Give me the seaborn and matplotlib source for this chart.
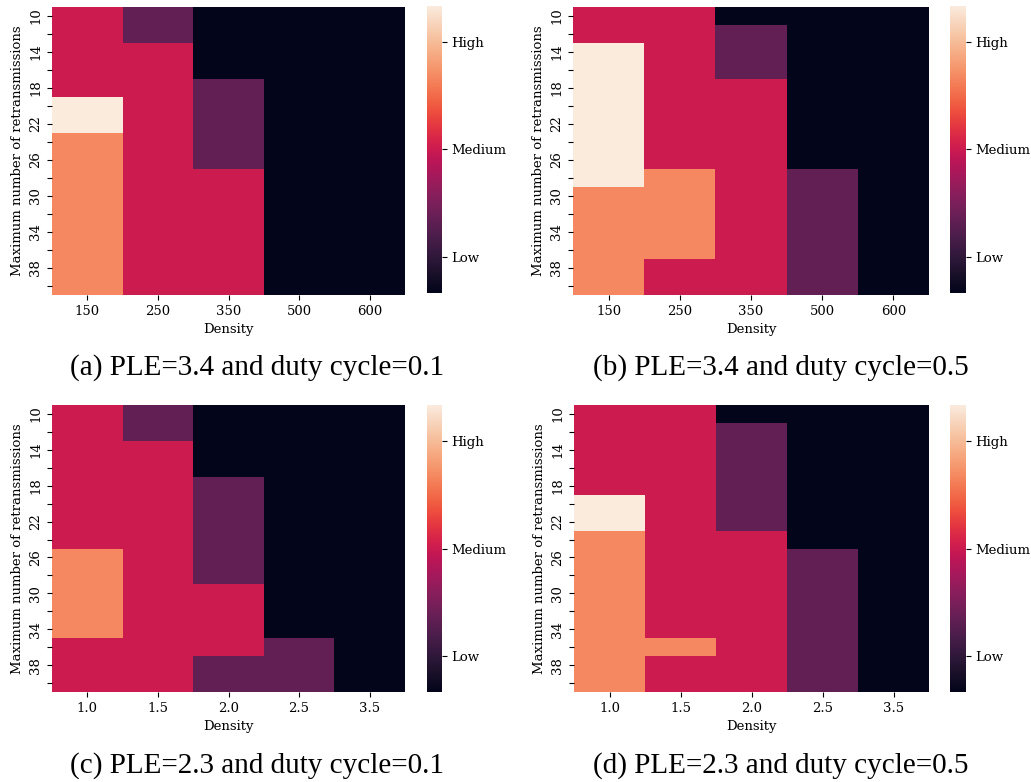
import numpy as np
import pandas as pd
import seaborn as sns
import matplotlib.pyplot as plt

# Levels: 0 = lowest ... 4 = highest
retransmissions = list(range(10, 41, 2))
density_top = [150, 250, 350, 500, 600]
density_bottom = [1.0, 1.5, 2.0, 2.5, 3.5]

# rows = retransmissions (10..40), cols = densities
panel_a = [
    [2, 1, 0, 0, 0], [2, 1, 0, 0, 0], [2, 2, 0, 0, 0], [2, 2, 0, 0, 0],
    [2, 2, 1, 0, 0], [4, 2, 1, 0, 0], [4, 2, 1, 0, 0], [3, 2, 1, 0, 0],
    [3, 2, 1, 0, 0], [3, 2, 2, 0, 0], [3, 2, 2, 0, 0], [3, 2, 2, 0, 0],
    [3, 2, 2, 0, 0], [3, 2, 2, 0, 0], [3, 2, 2, 0, 0], [3, 2, 2, 0, 0],
]
panel_b = [
    [2, 2, 0, 0, 0], [2, 2, 1, 0, 0], [4, 2, 1, 0, 0], [4, 2, 1, 0, 0],
    [4, 2, 2, 0, 0], [4, 2, 2, 0, 0], [4, 2, 2, 0, 0], [4, 2, 2, 0, 0],
    [4, 2, 2, 0, 0], [4, 3, 2, 1, 0], [3, 3, 2, 1, 0], [3, 3, 2, 1, 0],
    [3, 3, 2, 1, 0], [3, 3, 2, 1, 0], [3, 2, 2, 1, 0], [3, 2, 2, 1, 0],
]
panel_c = [
    [2, 1, 0, 0, 0], [2, 1, 0, 0, 0], [2, 2, 0, 0, 0], [2, 2, 0, 0, 0],
    [2, 2, 1, 0, 0], [2, 2, 1, 0, 0], [2, 2, 1, 0, 0], [2, 2, 1, 0, 0],
    [3, 2, 1, 0, 0], [3, 2, 1, 0, 0], [3, 2, 2, 0, 0], [3, 2, 2, 0, 0],
    [3, 2, 2, 0, 0], [2, 2, 2, 1, 0], [2, 2, 1, 1, 0], [2, 2, 1, 1, 0],
]
panel_d = [
    [2, 2, 0, 0, 0], [2, 2, 1, 0, 0], [2, 2, 1, 0, 0], [2, 2, 1, 0, 0],
    [2, 2, 1, 0, 0], [4, 2, 1, 0, 0], [4, 2, 1, 0, 0], [3, 2, 2, 0, 0],
    [3, 2, 2, 1, 0], [3, 2, 2, 1, 0], [3, 2, 2, 1, 0], [3, 2, 2, 1, 0],
    [3, 2, 2, 1, 0], [3, 3, 2, 1, 0], [3, 2, 2, 1, 0], [3, 2, 2, 1, 0],
]
captions = ["(a) PLE=3.4 and duty cycle=0.1", "(b) PLE=3.4 and duty cycle=0.5",
            "(c) PLE=2.3 and duty cycle=0.1", "(d) PLE=2.3 and duty cycle=0.5"]
level_ticks = [0.5, 2, 3.5]
level_labels = ["Low", "Medium", "High"]

plt.rcParams['font.family'] = 'DejaVu Serif'
plt.rcParams['font.size'] = 9.5

fig = plt.figure(figsize=(10.31, 7.82), dpi=100)
W, H = 1031, 782

def px_axes(x0, y0, x1, y1):
    return fig.add_axes([x0 / W, 1 - y1 / H, (x1 - x0) / W, (y1 - y0) / H])

panels = [
    (panel_a, density_top, (52, 7, 405, 295), (427, 6, 442, 293), (257, 368)),
    (panel_b, density_top, (573, 7, 929, 295), (950, 6, 966, 293), (781, 368)),
    (panel_c, density_bottom, (52, 405, 405, 692), (427, 405, 442, 692), (257, 766)),
    (panel_d, density_bottom, (574, 405, 929, 692), (950, 405, 966, 692), (781, 766)),
]

ylabels = [str(r) if i % 2 == 0 else "" for i, r in enumerate(retransmissions)]

for (vals, dens, hbox, cbox, cpos), cap in zip(panels, captions):
    ax = px_axes(*hbox)
    cax = px_axes(*cbox)
    df = pd.DataFrame(vals, index=retransmissions, columns=dens)
    sns.heatmap(df, ax=ax, cbar_ax=cax, cmap='rocket', vmin=0, vmax=4,
                xticklabels=[str(d) for d in dens], yticklabels=ylabels)
    ax.set_xlabel("Density")
    ax.set_ylabel("Maximum number of retransmissions")
    ax.tick_params(axis='y', labelrotation=90)
    ax.tick_params(axis='x', labelrotation=0)
    for t in ax.get_yticklabels():
        t.set_va('center')
    cax.set_yticks(level_ticks)
    cax.set_yticklabels(level_labels)
    fig.text(cpos[0] / W, 1 - cpos[1] / H, cap, ha='center', va='center',
             family='Liberation Serif', fontsize=21)

plt.savefig("out.png", dpi=100)
